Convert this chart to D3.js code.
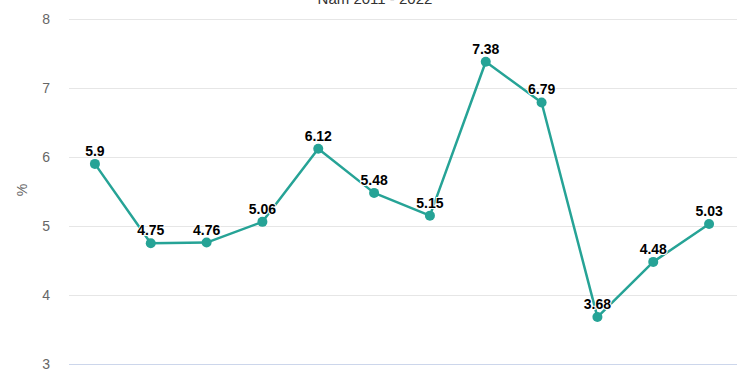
<!DOCTYPE html>
<html><head><meta charset="utf-8">
<script src="https://cdn.jsdelivr.net/npm/d3@7"></script>
<style>body{margin:0;background:#fff;font-family:"Liberation Sans",Arial,sans-serif}</style>
</head><body><svg id="c" width="750" height="375"></svg>
<script>
const years = ["2011","2012","2013","2014","2015","2016","2017","2018","2019","2020","2021","2022"];
const values = [5.9, 4.75, 4.76, 5.06, 6.12, 5.48, 5.15, 7.38, 6.79, 3.68, 4.48, 5.03];
const yTicks = [3,4,5,6,7,8];
const titleText = "Năm 2011 - 2022";
const yLabel = "%";

const svg = d3.select("#c");
const x = d3.scaleBand().domain(years).range([67, 737]);
const y = d3.scaleLinear().domain([3, 8]).range([364, 19]);
const color = "#26a396";

svg.append("text").attr("x", 375).attr("y", 4).attr("text-anchor", "middle")
  .attr("font-size", 15).attr("fill", "#333").text(titleText);

const g = svg.append("g");
g.selectAll("line.grid").data(yTicks).enter().append("line")
  .attr("x1", 69).attr("x2", 737)
  .attr("y1", d => Math.round(y(d)) + 0.5).attr("y2", d => Math.round(y(d)) + 0.5)
  .attr("stroke", d => d === 3 ? "#ccd6eb" : "#e6e6e6").attr("stroke-width", 1);

const yAxis = d3.axisLeft(y).tickValues(yTicks).tickFormat(d3.format("d")).tickSize(0).tickPadding(0);
const ya = svg.append("g").attr("transform", "translate(50,0)").call(yAxis);
ya.select(".domain").remove();
ya.selectAll("text").attr("font-size", 14).attr("fill", "#666").attr("dy", "0.35em")
  .attr("font-family", "'Liberation Sans',Arial,sans-serif");

svg.append("text").attr("transform", "translate(27,190) rotate(-90)")
  .attr("text-anchor", "middle").attr("font-size", 14).attr("fill", "#666").text(yLabel);

const cx = (d, i) => x(years[i]) + x.bandwidth() / 2;
const line = d3.line().x((d, i) => cx(d, i)).y(d => y(d));
svg.append("path").datum(values).attr("d", line).attr("fill", "none")
  .attr("stroke", color).attr("stroke-width", 2.5).attr("stroke-linejoin", "round");

svg.selectAll("circle.pt").data(values).enter().append("circle")
  .attr("cx", cx).attr("cy", d => y(d)).attr("r", 5).attr("fill", color);

svg.selectAll("text.lbl").data(values).enter().append("text")
  .attr("x", cx).attr("y", d => y(d) - 8).attr("text-anchor", "middle")
  .attr("font-size", 14).attr("font-weight", "bold").attr("fill", "#000")
  .attr("stroke", "#fff").attr("stroke-width", 2).attr("paint-order", "stroke")
  .text(d => d);
</script></body></html>
